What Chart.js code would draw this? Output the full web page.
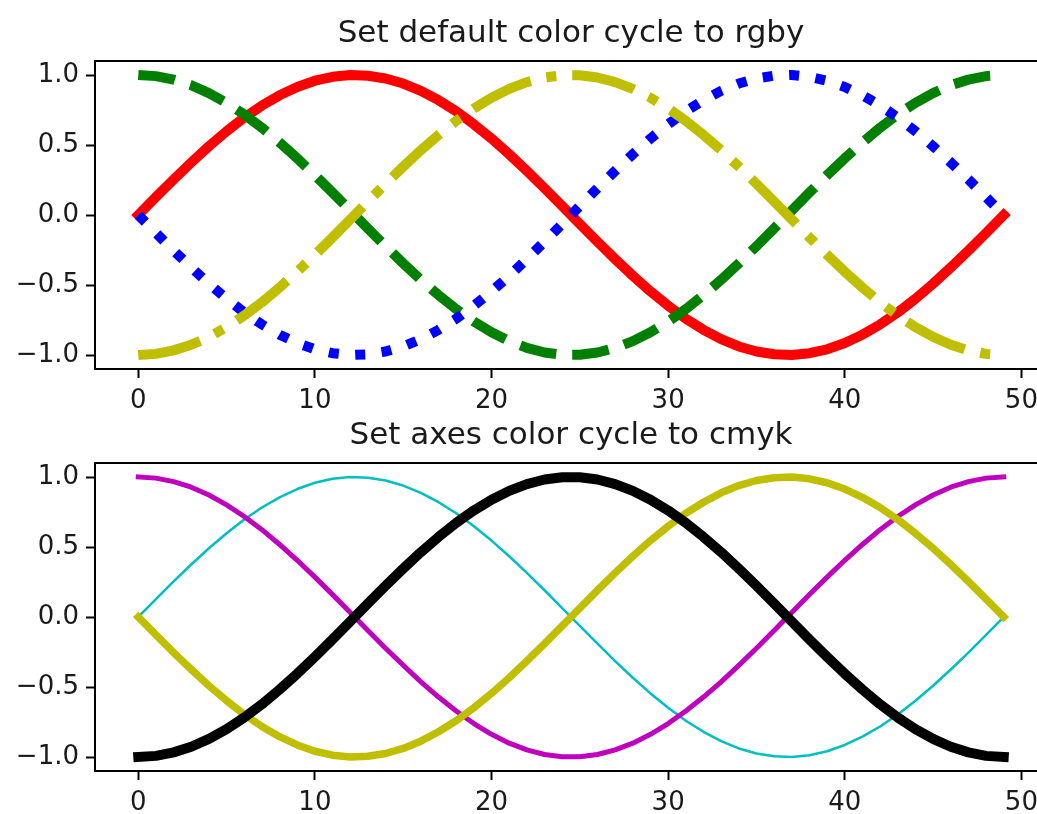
<!DOCTYPE html>
<html>
<head>
<meta charset="utf-8">
<script src="https://cdn.jsdelivr.net/npm/chart.js@4/dist/chart.umd.min.js"></script>
<style>
    html, body { margin: 0; padding: 0; background: #fff; overflow: hidden; width: 1037px; height: 814px; }
    .painel { position: absolute; left: 0; width: 1080px; height: 420px; }
</style>
</head>
<body>
<div class="painel" style="top:0"><canvas id="graficoTopo" width="1080" height="420"></canvas></div>
<div class="painel" style="top:402px"><canvas id="graficoBaixo" width="1080" height="420"></canvas></div>
<script>
// dados (50 pontos cada)
const senoVals = [0, 0.128, 0.254, 0.375, 0.491, 0.598, 0.696, 0.782, 0.855, 0.914, 0.959, 0.987, 1.000, 0.995, 0.975, 0.939, 0.887, 0.820, 0.741, 0.648,
    0.546, 0.434, 0.315, 0.191, 0.064, -0.064, -0.191, -0.315, -0.434, -0.546, -0.648, -0.741, -0.820, -0.887, -0.939, -0.975, -0.995, -1.000, -0.987, -0.959,
    -0.914, -0.855, -0.782, -0.696, -0.598, -0.491, -0.375, -0.254, -0.128, 0];
const cossenoVals = [1.000, 0.992, 0.967, 0.927, 0.871, 0.801, 0.718, 0.624, 0.518, 0.405, 0.285, 0.160, 0.032, -0.096, -0.223, -0.345, -0.463, -0.572, -0.672, -0.761,
    -0.838, -0.901, -0.949, -0.982, -0.998, -0.998, -0.982, -0.949, -0.901, -0.838, -0.761, -0.672, -0.572, -0.463, -0.345, -0.223, -0.096, 0.032, 0.160, 0.285,
    0.405, 0.518, 0.624, 0.718, 0.801, 0.871, 0.927, 0.967, 0.992, 1.000];
const senoNegVals = [0, -0.128, -0.254, -0.375, -0.491, -0.598, -0.696, -0.782, -0.855, -0.914, -0.959, -0.987, -1.000, -0.995, -0.975, -0.939, -0.887, -0.820, -0.741, -0.648,
    -0.546, -0.434, -0.315, -0.191, -0.064, 0.064, 0.191, 0.315, 0.434, 0.546, 0.648, 0.741, 0.820, 0.887, 0.939, 0.975, 0.995, 1.000, 0.987, 0.959,
    0.914, 0.855, 0.782, 0.696, 0.598, 0.491, 0.375, 0.254, 0.128, 0];
const cossenoNegVals = [-1.000, -0.992, -0.967, -0.927, -0.871, -0.801, -0.718, -0.624, -0.518, -0.405, -0.285, -0.160, -0.032, 0.096, 0.223, 0.345, 0.463, 0.572, 0.672, 0.761,
    0.838, 0.901, 0.949, 0.982, 0.998, 0.998, 0.982, 0.949, 0.901, 0.838, 0.761, 0.672, 0.572, 0.463, 0.345, 0.223, 0.096, -0.032, -0.160, -0.285,
    -0.405, -0.518, -0.624, -0.718, -0.801, -0.871, -0.927, -0.967, -0.992, -1.000];

const ticksX = [0, 10, 20, 30, 40, 50];
const ticksY = [-1.0, -0.5, 0.0, 0.5, 1.0];
const titulos = ['Set default color cycle to rgby', 'Set axes color cycle to cmyk'];

const fonte = 'DejaVu Sans';
const corTexto = '#1a1a1a';

function pontos(vals) {
    return vals.map((v, i) => ({ x: i, y: v }));
}

// moldura em volta da area do grafico (como os spines do matplotlib)
const moldura = {
    id: 'moldura',
    afterDatasetsDraw(chart) {
        const a = chart.chartArea;
        const c = chart.ctx;
        c.save();
        c.strokeStyle = '#000';
        c.lineWidth = 2;
        c.strokeRect(a.left, a.top, a.right - a.left, a.bottom - a.top);
        c.restore();
    }
};

// titulo centrado sobre a area do grafico, como no matplotlib
const tituloEixo = {
    id: 'tituloEixo',
    afterDraw(chart, args, opts) {
        const a = chart.chartArea;
        const c = chart.ctx;
        c.save();
        c.fillStyle = corTexto;
        c.font = '31px "' + fonte + '"';
        c.textAlign = 'center';
        c.textBaseline = 'alphabetic';
        c.fillText(opts.texto, (a.left + a.right) / 2, a.top - 19);
        c.restore();
    }
};

function linha(vals, cor, largura, tracejado, ordem) {
    return {
        data: pontos(vals),
        borderColor: cor,
        borderWidth: largura,
        borderDash: tracejado,
        borderCapStyle: tracejado.length ? 'butt' : 'square',
        borderJoinStyle: 'round',
        pointRadius: 0,
        tension: 0,
        order: ordem
    };
}

function criarGrafico(id, titulo, datasets) {
    const ctx = document.getElementById(id).getContext('2d');
    return new Chart(ctx, {
        type: 'line',
        data: { datasets },
        plugins: [moldura, tituloEixo],
        options: {
            responsive: false,
            animation: false,
            layout: { padding: { left: 0, right: 33, top: 61, bottom: 0 } },
            plugins: {
                legend: { display: false },
                tooltip: { enabled: false },
                title: { display: false },
                tituloEixo: { texto: titulo }
            },
            scales: {
                x: {
                    type: 'linear',
                    min: -2.45,
                    max: 51.45,
                    afterFit: s => { s.height = 51; },
                    afterBuildTicks: s => { s.ticks = ticksX.map(v => ({ value: v })); },
                    grid: { drawOnChartArea: false, drawTicks: true, tickLength: 9, tickWidth: 2, tickColor: '#000' },
                    border: { display: true, color: '#000', width: 2 },
                    ticks: { color: corTexto, padding: 8, maxRotation: 0, font: { family: fonte, size: 26 },
                        callback: v => String(v) }
                },
                y: {
                    min: -1.1,
                    max: 1.1,
                    afterFit: s => { s.width = 95; },
                    afterBuildTicks: s => { s.ticks = ticksY.map(v => ({ value: v })); },
                    grid: { drawOnChartArea: false, drawTicks: true, tickLength: 9, tickWidth: 2, tickColor: '#000' },
                    border: { display: true, color: '#000', width: 2 },
                    ticks: { color: corTexto, padding: 7, font: { family: fonte, size: 26 },
                        callback: v => v.toFixed(1).replace('-', '\u2212') }
                }
            }
        }
    });
}

// topo: r g b y, linhas grossas com estilos diferentes
criarGrafico('graficoTopo', titulos[0], [
    linha(senoVals, '#ff0000', 10, [], 4),
    linha(cossenoVals, '#008000', 10, [37, 16], 3),
    linha(senoNegVals, '#0000ff', 10, [10, 16.5], 2),
    linha(cossenoNegVals, '#bfbf00', 10, [64, 16, 10, 16], 1)
]);

// baixo: c m y k, larguras 1 a 4
criarGrafico('graficoBaixo', titulos[1], [
    linha(senoVals, '#00bfbf', 2.5, [], 4),
    linha(cossenoVals, '#bf00bf', 5, [], 3),
    linha(senoNegVals, '#bfbf00', 7.5, [], 2),
    linha(cossenoNegVals, '#000000', 10, [], 1)
]);
</script>
</body>
</html>
